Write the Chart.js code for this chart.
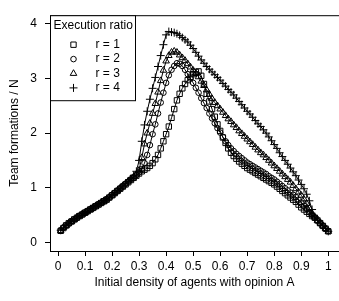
<!DOCTYPE html>
<html>
<head>
<meta charset="utf-8">
<title>Team formations</title>
<script src="https://cdn.jsdelivr.net/npm/chart.js@4.4.1/dist/chart.umd.min.js"></script>
<style>
  html, body { margin: 0; padding: 0; overflow: hidden; background: #fff; }
  #wrap { width: 344px; height: 301px; }
</style>
</head>
<body>
<div id="wrap"><canvas id="teamChart" width="344" height="301"></canvas></div>
<script>
// initial density of agents with opinion A
const densities = [
  0.01, 0.02, 0.03, 0.04, 0.05, 0.06, 0.07, 0.08, 0.09, 0.10,
  0.11, 0.12, 0.13, 0.14, 0.15, 0.16, 0.17, 0.18, 0.19, 0.20,
  0.21, 0.22, 0.23, 0.24, 0.25, 0.26, 0.27, 0.28, 0.29, 0.30,
  0.31, 0.32, 0.33, 0.34, 0.35, 0.36, 0.37, 0.38, 0.39, 0.40,
  0.41, 0.42, 0.43, 0.44, 0.45, 0.46, 0.47, 0.48, 0.49, 0.50,
  0.51, 0.52, 0.53, 0.54, 0.55, 0.56, 0.57, 0.58, 0.59, 0.60,
  0.61, 0.62, 0.63, 0.64, 0.65, 0.66, 0.67, 0.68, 0.69, 0.70,
  0.71, 0.72, 0.73, 0.74, 0.75, 0.76, 0.77, 0.78, 0.79, 0.80,
  0.81, 0.82, 0.83, 0.84, 0.85, 0.86, 0.87, 0.88, 0.89, 0.90,
  0.91, 0.92, 0.93, 0.94, 0.95, 0.96, 0.97, 0.98, 0.99, 1.00
];

// team formations / N, one array per execution ratio
const ratio1 = [
  0.21, 0.26, 0.31, 0.35, 0.38, 0.42, 0.45, 0.48, 0.51, 0.54,
  0.57, 0.60, 0.63, 0.66, 0.69, 0.72, 0.75, 0.78, 0.82, 0.86,
  0.90, 0.94, 0.98, 1.02, 1.06, 1.10, 1.14, 1.18, 1.22, 1.26,
  1.30, 1.33, 1.36, 1.40, 1.45, 1.52, 1.60, 1.72, 1.85, 1.98,
  2.12, 2.28, 2.44, 2.60, 2.72, 2.82, 2.90, 2.97, 3.03, 3.08,
  3.12, 3.13, 3.05, 2.90, 2.72, 2.58, 2.44, 2.30, 2.16, 2.04,
  1.92, 1.82, 1.72, 1.64, 1.58, 1.53, 1.48, 1.44, 1.40, 1.36,
  1.33, 1.30, 1.27, 1.24, 1.21, 1.18, 1.15, 1.12, 1.09, 1.06,
  1.02, 0.98, 0.94, 0.90, 0.86, 0.82, 0.78, 0.74, 0.69, 0.64,
  0.60, 0.56, 0.52, 0.48, 0.45, 0.40, 0.35, 0.30, 0.25, 0.20
];
const ratio2 = [
  0.22, 0.27, 0.31, 0.34, 0.39, 0.42, 0.45, 0.49, 0.51, 0.55,
  0.57, 0.61, 0.63, 0.67, 0.70, 0.72, 0.76, 0.79, 0.82, 0.87,
  0.90, 0.95, 0.99, 1.03, 1.07, 1.11, 1.15, 1.19, 1.23, 1.28,
  1.34, 1.45, 1.60, 1.78, 1.98, 2.16, 2.36, 2.56, 2.74, 2.92,
  3.06, 3.16, 3.23, 3.28, 3.27, 3.23, 3.16, 3.08, 3.00, 2.92,
  2.83, 2.74, 2.64, 2.55, 2.46, 2.36, 2.27, 2.18, 2.09, 2.01,
  1.93, 1.85, 1.78, 1.72, 1.67, 1.62, 1.58, 1.54, 1.50, 1.46,
  1.43, 1.40, 1.37, 1.34, 1.31, 1.28, 1.25, 1.21, 1.18, 1.15,
  1.11, 1.07, 1.03, 0.99, 0.95, 0.91, 0.87, 0.83, 0.78, 0.73,
  0.67, 0.61, 0.55, 0.50, 0.45, 0.40, 0.35, 0.30, 0.25, 0.21
];
const ratio3 = [
  0.21, 0.27, 0.30, 0.35, 0.38, 0.41, 0.46, 0.48, 0.52, 0.54,
  0.58, 0.60, 0.64, 0.66, 0.70, 0.73, 0.75, 0.79, 0.83, 0.86,
  0.91, 0.94, 0.99, 1.03, 1.07, 1.12, 1.16, 1.20, 1.25, 1.32,
  1.55, 1.80, 2.00, 2.18, 2.36, 2.54, 2.75, 2.96, 3.15, 3.32,
  3.42, 3.48, 3.50, 3.48, 3.43, 3.38, 3.33, 3.27, 3.21, 3.15,
  3.09, 3.03, 2.95, 2.87, 2.79, 2.71, 2.63, 2.56, 2.50, 2.44,
  2.38, 2.32, 2.26, 2.21, 2.15, 2.10, 2.04, 1.99, 1.94, 1.89,
  1.84, 1.79, 1.74, 1.69, 1.64, 1.60, 1.55, 1.50, 1.45, 1.40,
  1.35, 1.30, 1.25, 1.20, 1.15, 1.10, 1.04, 0.98, 0.92, 0.86,
  0.79, 0.71, 0.62, 0.53, 0.46, 0.40, 0.35, 0.30, 0.25, 0.20
];
const ratio4 = [
  0.22, 0.26, 0.31, 0.34, 0.39, 0.41, 0.45, 0.48, 0.52, 0.54,
  0.57, 0.61, 0.63, 0.66, 0.69, 0.73, 0.76, 0.78, 0.83, 0.87,
  0.91, 0.95, 0.98, 1.03, 1.08, 1.12, 1.17, 1.22, 1.30, 1.50,
  1.85, 2.15, 2.40, 2.62, 2.82, 3.02, 3.22, 3.42, 3.62, 3.80,
  3.86, 3.85, 3.84, 3.82, 3.79, 3.75, 3.71, 3.67, 3.61, 3.55,
  3.48, 3.41, 3.34, 3.28, 3.22, 3.17, 3.12, 3.07, 3.02, 2.97,
  2.91, 2.86, 2.80, 2.75, 2.70, 2.64, 2.58, 2.52, 2.46, 2.40,
  2.35, 2.29, 2.23, 2.17, 2.12, 2.06, 2.00, 1.93, 1.86, 1.79,
  1.72, 1.64, 1.57, 1.50, 1.43, 1.36, 1.29, 1.22, 1.14, 1.06,
  0.98, 0.88, 0.76, 0.60, 0.47, 0.41, 0.35, 0.30, 0.25, 0.20
];

const seriesLabels = ['r = 1', 'r = 2', 'r = 3', 'r = 4'];
const xTickValues = [0, 0.1, 0.2, 0.3, 0.4, 0.5, 0.6, 0.7, 0.8, 0.9, 1];
const yTickValues = [0, 1, 2, 3, 4];

const FONT = { family: '"Liberation Sans", Arial, Helvetica, sans-serif', size: 12 };
const markers = [
  { style: 'rect', radius: 3.8 },
  { style: 'circle', radius: 2.8 },
  { style: 'triangle', radius: 3.8 },
  { style: 'cross', radius: 4 }
];

// box around the plot region (right side falls outside the window, like the original)
const frameBox = {
  id: 'frameBox',
  afterDatasetsDraw(chart) {
    const { ctx, chartArea: a } = chart;
    ctx.save();
    ctx.strokeStyle = '#000';
    ctx.lineWidth = 1;
    ctx.strokeRect(a.left + 0.5, a.top + 0.5, a.right - a.left, a.bottom - a.top);
    ctx.restore();
  }
};

// R style legend box in the top left corner
const boxLegend = {
  id: 'boxLegend',
  afterDraw(chart) {
    const { ctx, chartArea: a } = chart;
    const x0 = a.left + 0.5, y0 = a.top + 0.5;
    const w = 85, h = 85;
    ctx.save();
    ctx.fillStyle = '#fff';
    ctx.fillRect(x0, y0, w, h);
    ctx.strokeStyle = '#000';
    ctx.lineWidth = 1;
    ctx.strokeRect(x0, y0, w, h);

    ctx.fillStyle = '#000';
    ctx.font = `${FONT.size}px ${FONT.family}`;
    ctx.textBaseline = 'middle';
    ctx.textAlign = 'left';
    ctx.fillText('Execution ratio', x0 + 3, y0 + 10);

    chart.data.datasets.forEach((ds, i) => {
      const y = y0 + 29 + i * 14.4;
      ctx.fillStyle = 'rgba(0,0,0,0)';
      ctx.strokeStyle = '#000';
      ctx.lineWidth = 1;
      Chart.helpers.drawPoint(ctx, {
        pointStyle: ds.pointStyle,
        radius: ds.pointRadius,
        rotation: 0,
        borderWidth: 1
      }, x0 + 23, y);
      ctx.fillStyle = '#000';
      ctx.fillText(ds.label, x0 + 45, y);
    });
    ctx.restore();
  }
};

const datasets = [ratio1, ratio2, ratio3, ratio4].map((values, i) => ({
  label: seriesLabels[i],
  data: densities.map((d, j) => ({ x: d, y: values[j] })),
  borderColor: '#000',
  borderWidth: 1,
  backgroundColor: 'rgba(0,0,0,0)',
  fill: false,
  tension: 0,
  pointStyle: markers[i].style,
  pointRadius: markers[i].radius,
  pointBorderColor: '#000',
  pointBackgroundColor: 'rgba(0,0,0,0)',
  pointBorderWidth: 1
}));

const ctx = document.getElementById('teamChart').getContext('2d');
const chart = new Chart(ctx, {
  type: 'line',
  data: { datasets },
  options: {
    responsive: false,
    animation: false,
    events: [],
    layout: { padding: { top: 4, right: 1, bottom: 0, left: 0 } },
    plugins: {
      legend: { display: false },
      tooltip: { enabled: false }
    },
    scales: {
      x: {
        type: 'linear',
        min: -0.0296,
        max: 1.0396,
        afterBuildTicks: scale => { scale.ticks = xTickValues.map(v => ({ value: v })); },
        afterFit: scale => { scale.height = 50; },
        grid: { drawOnChartArea: false, drawTicks: true, tickLength: 5, color: '#000', lineWidth: 1 },
        border: { display: false },
        ticks: {
          color: '#000',
          font: FONT,
          padding: 3,
          maxRotation: 0,
          autoSkip: false,
          callback: v => String(v)
        },
        title: {
          display: true,
          text: 'Initial density of agents with opinion A',
          color: '#000',
          font: FONT,
          padding: { top: 0, bottom: 11 }
        }
      },
      y: {
        type: 'linear',
        min: -0.16,
        max: 4.16,
        afterBuildTicks: scale => { scale.ticks = yTickValues.map(v => ({ value: v })); },
        afterFit: scale => { scale.width = 50; },
        grid: { drawOnChartArea: false, drawTicks: true, tickLength: 5, color: '#000', lineWidth: 1 },
        border: { display: false },
        ticks: {
          color: '#000',
          font: FONT,
          padding: 8,
          autoSkip: false,
          callback: v => String(v)
        },
        title: {
          display: true,
          text: 'Team formations / N',
          color: '#000',
          font: FONT,
          padding: { top: 7, bottom: 0 }
        }
      }
    }
  },
  plugins: [frameBox, boxLegend]
});
</script>
</body>
</html>
